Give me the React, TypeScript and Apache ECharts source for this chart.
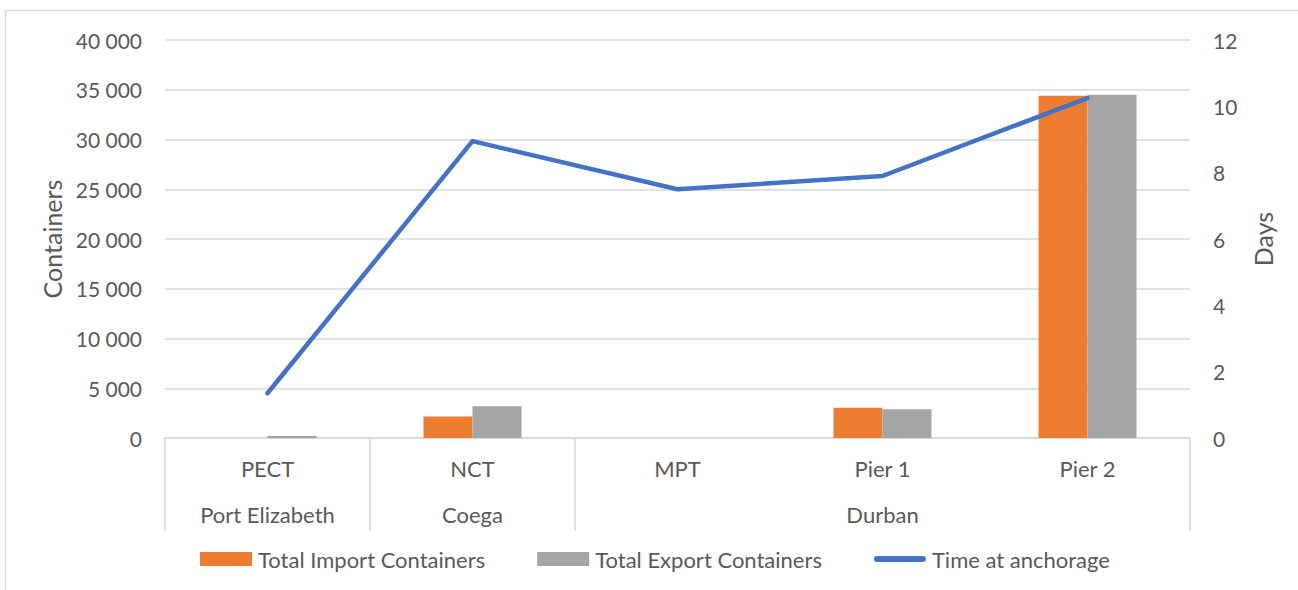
import React, { useEffect, useRef } from "react";
import * as echarts from "echarts";

const terminals = ["PECT", "NCT", "MPT", "Pier 1", "Pier 2"];
const importContainers = [0, 2150, 0, 3050, 34400];
const exportContainers = [200, 3200, 0, 2900, 34500];
const timeAtAnchorage = [1.35, 8.95, 7.5, 7.9, 10.25];
const portNames = ["Port Elizabeth", "Coega", "Durban"];
const portSpans = [1, 1, 3];
const containerTicks = { min: 0, max: 40000, interval: 5000 };
const dayTicks = { min: 0, max: 12, interval: 2 };

const FONT = "Lato";
const TEXT = "#595959";
const GRID = "#D9D9D9";
const NUM_SIZE = 21;
const LABEL_SIZE = 22;
const TITLE_SIZE = 25;

const LINE_ICON =
  "path://M0,0 L0.01,0 M3,4 L49,4 A3,3 0 0 1 49,10 L3,10 A3,3 0 0 1 3,4 Z M0,14 L0.01,14";

export default function App() {
  const ref = useRef<HTMLDivElement>(null);
  useEffect(() => {
    if (!ref.current) return;
    const chart = echarts.init(ref.current, undefined, { renderer: "svg" });

    const boundaries: number[] = [0];
    const centers: number[] = [];
    const centerNames: Record<string, string> = {};
    portSpans.forEach((s, i) => {
      const start = boundaries[boundaries.length - 1];
      boundaries.push(start + s);
      const c = start + s / 2;
      centers.push(c);
      centerNames[String(c)] = portNames[i];
    });

    const fmt = (v: number) =>
      String(Math.round(v)).replace(/\B(?=(\d{3})+(?!\d))/g, " ");

    chart.setOption({
      animation: false,
      textStyle: { fontFamily: FONT },
      graphic: [
        {
          type: "rect",
          shape: { x: 5.5, y: 10.5, width: 1400, height: 700 },
          style: { fill: "none", stroke: GRID, lineWidth: 1.5 },
          silent: true,
          z: -10,
        },
      ],
      grid: { left: 165, right: 108, top: 40, bottom: 152, containLabel: false },
      legend: {
        left: 200,
        top: 548,
        padding: 0,
        itemWidth: 52,
        itemHeight: 14,
        itemGap: 52,
        textStyle: { fontSize: LABEL_SIZE, color: TEXT, fontFamily: FONT, padding: [0, 0, 0, 1] },
        data: [
          { name: "Total Import Containers", icon: "rect" },
          { name: "Total Export Containers", icon: "rect" },
          { name: "Time at anchorage", icon: LINE_ICON, itemStyle: { color: "#4472C4" } },
        ],
      },
      xAxis: [
        {
          type: "category",
          data: terminals,
          position: "bottom",
          axisLine: { show: true, lineStyle: { color: GRID, width: 1.5 } },
          axisTick: { show: false },
          axisLabel: { fontSize: LABEL_SIZE, color: TEXT, margin: 19, fontFamily: FONT },
        },
        {
          type: "value",
          min: 0,
          max: terminals.length,
          position: "bottom",
          axisLine: { show: false },
          splitLine: { show: false },
          axisTick: {
            show: true,
            length: 93,
            customValues: boundaries,
            lineStyle: { color: GRID, width: 1.5 },
          },
          axisLabel: {
            show: true,
            customValues: centers,
            margin: 65,
            fontSize: LABEL_SIZE,
            color: TEXT,
            fontFamily: FONT,
            formatter: (v: number) => centerNames[String(v)] || "",
          },
        },
      ],
      yAxis: [
        {
          type: "value",
          ...containerTicks,
          name: "Containers",
          nameLocation: "middle",
          nameRotate: 90,
          nameGap: 98,
          nameTextStyle: { fontSize: TITLE_SIZE, color: TEXT, fontFamily: FONT },
          axisLine: { show: false },
          axisTick: { show: false },
          splitLine: { lineStyle: { color: GRID, width: 1.5 } },
          axisLabel: { fontSize: NUM_SIZE, color: TEXT, margin: 23, formatter: fmt, fontFamily: FONT },
        },
        {
          type: "value",
          ...dayTicks,
          name: "Days",
          nameLocation: "middle",
          nameRotate: 90,
          nameGap: 60,
          nameTextStyle: { fontSize: TITLE_SIZE, color: TEXT, fontFamily: FONT },
          axisLine: { show: false },
          axisTick: { show: false },
          splitLine: { show: false },
          axisLabel: { fontSize: NUM_SIZE, color: TEXT, margin: 23, fontFamily: FONT },
        },
      ],
      series: [
        {
          name: "Total Import Containers",
          type: "bar",
          xAxisIndex: 0,
          yAxisIndex: 0,
          data: importContainers,
          barWidth: 49,
          barGap: "0%",
          itemStyle: { color: "#ED7D31" },
        },
        {
          name: "Total Export Containers",
          type: "bar",
          xAxisIndex: 0,
          yAxisIndex: 0,
          data: exportContainers,
          barWidth: 49,
          barGap: "0%",
          itemStyle: { color: "#A5A5A5" },
        },
        {
          name: "Time at anchorage",
          type: "line",
          xAxisIndex: 0,
          yAxisIndex: 1,
          data: timeAtAnchorage,
          symbol: "none",
          lineStyle: { color: "#4472C4", width: 4.5, cap: "round", join: "round" },
          itemStyle: { color: "#4472C4" },
          z: 5,
        },
      ],
    });
    return () => chart.dispose();
  }, []);
  return (
    <div
      ref={ref}
      style={{ position: "absolute", left: 0, top: 0, width: 1298, height: 590, background: "#fff" }}
    />
  );
}
